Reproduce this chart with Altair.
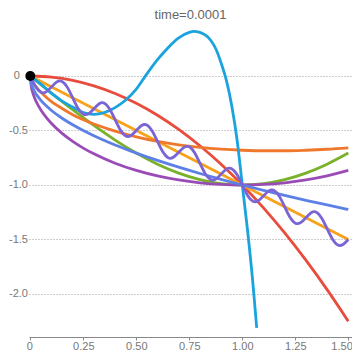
import altair as alt
import pandas as pd

TITLE = "time=0.0001"
X_TICKS = [0, 0.25, 0.5, 0.75, 1.0, 1.25, 1.5]
Y_TICKS = [0, -0.5, -1.0, -1.5, -2.0]

# red curve
red_x = [0, 0.1, 0.2, 0.3, 0.4, 0.5, 0.6, 0.7, 0.8, 0.9, 1.0, 1.1, 1.2, 1.3, 1.4, 1.5]
red_y = [0, -0.01, -0.04, -0.09, -0.16, -0.25, -0.36, -0.49, -0.64, -0.81, -1.0,
         -1.21, -1.44, -1.69, -1.96, -2.25]

# straight (yellow-orange) line
line_x = [0, 0.5, 1.0, 1.5]
line_y = [0, -0.5, -1.0, -1.5]

# green curve
green_x = [0, 0.1, 0.2, 0.3, 0.4, 0.5, 0.6, 0.7, 0.8, 0.9, 1.0, 1.1, 1.2, 1.3, 1.4, 1.5]
green_y = [0, -0.1564, -0.309, -0.454, -0.5878, -0.7071, -0.809, -0.891, -0.9511, -0.9877,
           -1.0, -0.9877, -0.9511, -0.891, -0.809, -0.7071]

# dark orange curve
dorange_x = [0, 0.01, 0.03, 0.06, 0.1, 0.15, 0.2, 0.3, 0.4, 0.5, 0.6, 0.7, 0.8, 0.9,
             1.0, 1.1, 1.2, 1.3, 1.4, 1.5]
dorange_y = [0, -0.052, -0.106, -0.167, -0.235, -0.298, -0.355, -0.44, -0.505, -0.558,
             -0.6, -0.632, -0.655, -0.671, -0.681, -0.686, -0.686, -0.681, -0.672, -0.659]

# purple curve
purple_x = [0, 0.005, 0.01, 0.02, 0.03, 0.05, 0.075, 0.1, 0.15, 0.2, 0.25, 0.3, 0.4, 0.5,
            0.6, 0.7, 0.8, 0.9, 1.0, 1.1, 1.2, 1.3, 1.4, 1.5]
purple_y = [0, -0.0999, -0.1411, -0.199, -0.2431, -0.3122, -0.38, -0.4359, -0.5268, -0.6,
            -0.6614, -0.7141, -0.8, -0.866, -0.9165, -0.9539, -0.9798, -0.995, -1.0,
            -0.995, -0.9798, -0.9539, -0.9165, -0.866]

# blue curve
blue_x = [0, 0.005, 0.01, 0.02, 0.03, 0.05, 0.075, 0.1, 0.15, 0.2, 0.25, 0.3, 0.4, 0.5,
          0.6, 0.7, 0.8, 0.9, 1.0, 1.1, 1.2, 1.3, 1.4, 1.5]
blue_y = [0, -0.0707, -0.1, -0.1414, -0.1732, -0.2236, -0.2739, -0.3162, -0.3873, -0.4472,
          -0.5, -0.5477, -0.6325, -0.7071, -0.7746, -0.8367, -0.8944, -0.9487, -1.0,
          -1.0488, -1.0954, -1.1402, -1.1832, -1.2247]

# sky-blue curve
sky_x = [0, 0.05, 0.1, 0.15, 0.2, 0.25, 0.3, 0.35, 0.4, 0.45, 0.5, 0.55, 0.6, 0.65, 0.7,
         0.75, 0.77, 0.8, 0.85, 0.875, 0.9, 0.925, 0.95, 0.975, 1.0, 1.025, 1.05, 1.068]
sky_y = [0, -0.075, -0.16, -0.23, -0.285, -0.335, -0.352, -0.335, -0.29, -0.22, -0.12,
         0.02, 0.15, 0.26, 0.35, 0.4, 0.41, 0.4, 0.33, 0.25, 0.12, -0.04, -0.27, -0.58,
         -1.0, -1.42, -1.9, -2.31]

# wavy violet curve
wave_x = [round(0.025 * k, 3) for k in range(61)]
wave_y = [0, -0.0957, -0.15, -0.1457, -0.1, -0.0543, -0.05, -0.1043,
          -0.2, -0.2957, -0.35, -0.3457, -0.3, -0.2543, -0.25, -0.3043,
          -0.4, -0.4957, -0.55, -0.5457, -0.5, -0.4543, -0.45, -0.5043,
          -0.6, -0.6957, -0.75, -0.7457, -0.7, -0.6543, -0.65, -0.7043,
          -0.8, -0.8957, -0.95, -0.9457, -0.9, -0.8543, -0.85, -0.9043,
          -1.0, -1.0957, -1.15, -1.1457, -1.1, -1.0543, -1.05, -1.1043,
          -1.2, -1.2957, -1.35, -1.3457, -1.3, -1.2543, -1.25, -1.3043,
          -1.4, -1.4957, -1.55, -1.5457, -1.5]

dot_x = [0]
dot_y = [0]
zero_label = ["0"]

series = [
    (red_x, red_y, "#E84C3D", "monotone"),
    (line_x, line_y, "#F7A21B", "linear"),
    (green_x, green_y, "#79B12B", "monotone"),
    (dorange_x, dorange_y, "#F0782D", "monotone"),
    (purple_x, purple_y, "#9A4CB6", "monotone"),
    (blue_x, blue_y, "#5C80E6", "monotone"),
    (sky_x, sky_y, "#1AA3DD", "monotone"),
    (wave_x, wave_y, "#7A64D6", "natural"),
]

FONT = "Liberation Sans"
LABEL_COLOR = "#777777"
xscale = alt.Scale(domain=[-0.0061, 1.5175], nice=False, zero=False)
yscale = alt.Scale(domain=[-2.3945, 0.4954], nice=False, zero=False)

xaxis = alt.Axis(
    values=X_TICKS,
    labelExpr="datum.value == 0 ? '0' : format(datum.value, '.2f')",
    grid=False, domainColor="#888888", tickColor="#888888", tickSize=3,
    labelPadding=0, labelColor=LABEL_COLOR, labelFontSize=11, labelFont=FONT,
    labelFlush=5, labelFlushOffset=4, labelOverlap=False, title=None,
)
yaxis = alt.Axis(
    values=Y_TICKS,
    labelExpr="datum.value == 0 ? '' : replace(format(datum.value, '.1f'), '\u2212', '-')",
    grid=True, gridDash=[1, 2], gridColor="#9a9a9a", gridWidth=1,
    domain=False, ticks=False, labelPadding=1.5, labelColor=LABEL_COLOR,
    labelFontSize=11, labelFont=FONT, labelOverlap=False, title=None,
)


def enc(chart):
    return chart.encode(
        x=alt.X("x:Q", scale=xscale, axis=xaxis),
        y=alt.Y("y:Q", scale=yscale, axis=yaxis),
    )


layers = []
for xs, ys, color, interp in series:
    df = pd.DataFrame({"x": xs, "y": ys})
    layers.append(enc(alt.Chart(df).mark_line(color=color, strokeWidth=2.8,
                                              interpolate=interp)))

dot_df = pd.DataFrame({"x": dot_x, "y": dot_y, "label": zero_label})
layers.append(enc(alt.Chart(dot_df).mark_circle(color="black", size=100, opacity=1)))
layers.append(
    enc(alt.Chart(dot_df).mark_text(align="right", baseline="middle", dx=-10.5,
                                    fontSize=11, font=FONT, color=LABEL_COLOR))
    .encode(text="label:N")
)

chart = alt.layer(*layers).properties(
    width=323,
    height=315,
    padding={"left": 21, "top": 14, "right": 0, "bottom": 13},
    autosize=alt.AutoSizeParams(type="none"),
    title=alt.Title(TITLE, fontSize=13, color="#666666", font=FONT,
                    fontWeight="normal", offset=0, anchor="middle"),
).configure_view(stroke=None)

chart.save("out.html", embed_options={"renderer": "svg", "actions": False})
